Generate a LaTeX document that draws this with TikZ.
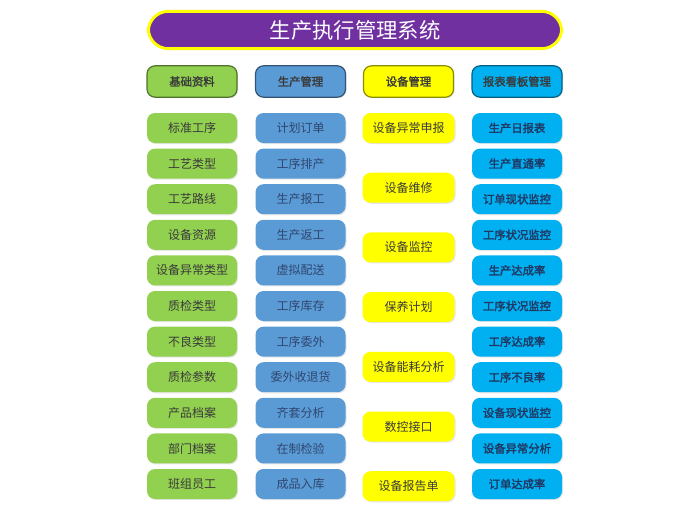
\documentclass[tikz,border=0pt]{standalone}
\usepackage{fontspec}
\newfontfamily\cjk[AutoFakeBold=2]{Noto Sans CJK SC}
\usetikzlibrary{shadows}
\definecolor{mesPurple}{HTML}{7030A0}
\definecolor{mesYellow}{HTML}{FFFF00}
\definecolor{mesGreen}{HTML}{92D050}
\definecolor{mesBlue}{HTML}{5B9BD5}
\definecolor{mesCyan}{HTML}{00B0F0}
\definecolor{mesText}{HTML}{3A3A3A}
\definecolor{mesNavy}{HTML}{1F3864}
\definecolor{mesSlate}{HTML}{2F4670}
\tikzset{
  cell/.style={rounded corners=6pt, minimum width=67.5pt, minimum height=22.5pt,
    inner sep=0pt, text=mesText, font=\cjk\fontsize{9}{11}\selectfont,
    drop shadow={opacity=0.2, shadow xshift=0.8pt, shadow yshift=-0.8pt}},
  head/.style={cell, fill=#1, draw=#1!55!black, line width=0.9pt,
    minimum height=23.5pt, font=\cjk\bfseries\fontsize{8.5}{10}\selectfont},
  title/.style={rounded corners=15pt, minimum width=310pt, minimum height=28pt,
    fill=mesPurple, draw=mesYellow, line width=2.2pt, text=white,
    font=\cjk\fontsize{16}{18}\selectfont}
}
\begin{document}
\begin{tikzpicture}[x=0.75pt, y=-0.75pt]
    \useasboundingbox (0,0) rectangle (680,515);

    % Title bar
    \node[title] (title) at (355,30) {生产执行管理系统};

    % Column headers
    \node[head=mesGreen] (hbase) at (192,81.5) {基础资料};
    \node[head=mesBlue] (hprod) at (300.5,81.5) {生产管理};
    \node[head=mesYellow] (hequip) at (408.5,81.5) {设备管理};
    \node[head=mesCyan] (hreport) at (517,81.5) {报表看板管理};

    % Basic data column
    \foreach \t [count=\i] in {标准工序,工艺类型,工艺路线,设备资源,设备异常类型,质检类型,不良类型,质检参数,产品档案,部门档案,班组员工}
        \node[cell, fill=mesGreen] (base\i) at (192,{128+35.6*(\i-1)}) {\t};

    % Production column
    \foreach \t [count=\i] in {计划订单,工序排产,生产报工,生产返工,虚拟配送,工序库存,工序委外,委外收退货,齐套分析,在制检验,成品入库}
        \node[cell, fill=mesBlue, text=mesSlate] (prod\i) at (300.5,{128+35.6*(\i-1)}) {\t};

    % Equipment column
    \foreach \t [count=\i] in {设备异常申报,设备维修,设备监控,保养计划,设备能耗分析,数控接口,设备报告单}
        \node[cell, fill=mesYellow, minimum width=69pt] (equip\i) at (408.5,{128+59.7*(\i-1)}) {\t};

    % Report column
    \foreach \t [count=\i] in {生产日报表,生产直通率,订单现状监控,工序状况监控,生产达成率,工序状况监控,工序达成率,工序不良率,设备现状监控,设备异常分析,订单达成率}
        \node[cell, fill=mesCyan, text=mesNavy, font=\cjk\bfseries\fontsize{8.5}{10}\selectfont] (report\i) at (517,{128+35.6*(\i-1)}) {\t};
\end{tikzpicture}
\end{document}
